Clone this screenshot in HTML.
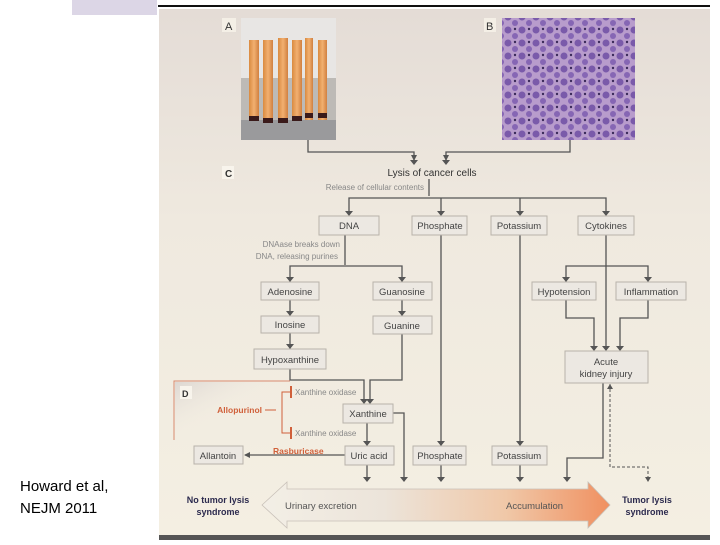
<!DOCTYPE html>
<html><head><meta charset="utf-8"><style>
body{margin:0;width:720px;height:540px;overflow:hidden;background:#fff;font-family:"Liberation Sans",sans-serif}
</style></head><body>
<svg width="720" height="540" viewBox="0 0 720 540" xmlns="http://www.w3.org/2000/svg" font-family="Liberation Sans, sans-serif">
<defs>
<linearGradient id="bg" x1="0" y1="0" x2="0" y2="1"><stop offset="0" stop-color="#e4dcd6"/><stop offset="0.4" stop-color="#efe9df"/><stop offset="1" stop-color="#f4efe2"/></linearGradient>
<linearGradient id="arr" x1="0" y1="0" x2="1" y2="0"><stop offset="0" stop-color="#f3efe6"/><stop offset="0.35" stop-color="#ece4da"/><stop offset="0.7" stop-color="#f0c8a8"/><stop offset="1" stop-color="#f09060"/></linearGradient>
<linearGradient id="dg" x1="0" y1="0" x2="1" y2="1"><stop offset="0" stop-color="#ddd7d2"/><stop offset="0.5" stop-color="#f1ece2" stop-opacity="0"/></linearGradient>
<linearGradient id="tube" x1="0" y1="0" x2="1" y2="0"><stop offset="0" stop-color="#d98a40"/><stop offset="0.5" stop-color="#f2b070"/><stop offset="1" stop-color="#d08040"/></linearGradient>
<pattern id="cells" width="14" height="13" patternUnits="userSpaceOnUse"><rect width="14" height="13" fill="#b89ccc"/><circle cx="4" cy="4" r="3.5" fill="#7a5aaa"/><circle cx="11" cy="10" r="3" fill="#8666b4"/><circle cx="11" cy="3" r="1.2" fill="#3a2a5a"/></pattern>
<marker id="ah" markerWidth="6" markerHeight="6" refX="5" refY="3" orient="auto" markerUnits="userSpaceOnUse"><path d="M0,0 L6,3 L0,6z" fill="#555"/></marker>
</defs>
<rect x="72" y="0" width="85" height="15" fill="#dcd6e6"/>
<rect x="158" y="5" width="552" height="2" fill="#111"/>
<rect x="159" y="9" width="551" height="527" fill="url(#bg)"/>
<rect x="159" y="535" width="551" height="5" fill="#555"/>
<!-- photo A -->
<rect x="222" y="18" width="14" height="14" fill="#f4efe6"/><text x="225" y="30" font-size="11" fill="#333">A</text>
<rect x="241" y="18" width="95" height="122" fill="#bdbab6"/>
<rect x="241" y="18" width="95" height="60" fill="#e8e6e4"/>
<g fill="url(#tube)"><rect x="249" y="50" width="10" height="118" transform="scale(1,0.8)"/></g>
<rect x="249" y="40" width="10" height="82" fill="url(#tube)"/><rect x="263" y="40" width="10" height="84" fill="url(#tube)"/><rect x="278" y="38" width="10" height="87" fill="url(#tube)"/><rect x="292" y="40" width="10" height="84" fill="url(#tube)"/><rect x="305" y="38" width="8" height="82" fill="url(#tube)"/><rect x="318" y="40" width="9" height="80" fill="url(#tube)"/>
<rect x="241" y="120" width="95" height="20" fill="#9a9a9c"/>
<g fill="#3a1a1a"><rect x="249" y="116" width="10" height="5"/><rect x="263" y="118" width="10" height="5"/><rect x="278" y="118" width="10" height="5"/><rect x="292" y="116" width="10" height="5"/><rect x="305" y="113" width="8" height="5"/><rect x="318" y="113" width="9" height="5"/></g>
<!-- photo B -->
<rect x="484" y="18" width="12" height="14" fill="#f4efe6"/><text x="486" y="30" font-size="11" fill="#333">B</text>
<rect x="502" y="18" width="133" height="122" fill="url(#cells)"/>
<g stroke="#555" stroke-width="1.3" fill="none">
<path d="M308,140 V152 H414 V160" marker-end="url(#ah)"/>
<path d="M570,140 V152 H446 V160" marker-end="url(#ah)"/>
<path d="M429,179 V196 M349,214 V198 H606 V214" />
<path d="M441,198 V214 M520,198 V214"/>
<path d="M345,235 V265 M290,282 V266 H402 V282"/>
<path d="M290,300 V316 M402,300 V316 M290,333 V349"/>
<path d="M290,369 V380 H364 V403 M402,334 V380 H370 V403"/>
<path d="M367,423 V446 M367,465 V481 M393,413 H404 V481"/>
<path d="M345,455 H245"/>
<path d="M441,235 V446 M441,465 V481 M520,235 V446 M520,465 V481"/>
<path d="M606,235 V350 M566,282 V266 H648 V282"/>
<path d="M566,300 V318 H594 V350 M648,300 V318 H620 V350"/>
<path d="M603,383 V458 H567 V481"/>
<path d="M610,384 V467 H648 V481" stroke-dasharray="3,2" stroke-width="1"/>
</g>
<g fill="#555">
<path d="M410,160h8l-4,5z M442,160h8l-4,5z M345,211h8l-4,5z M437,211h8l-4,5z M516,211h8l-4,5z M602,211h8l-4,5z"/>
<path d="M286,277h8l-4,5z M398,277h8l-4,5z M286,311h8l-4,5z M398,311h8l-4,5z M286,344h8l-4,5z"/>
<path d="M360,399h8l-4,5z M366,399h8l-4,5z M363,441h8l-4,5z M363,477h8l-4,5z M400,477h8l-4,5z"/>
<path d="M437,441h8l-4,5z M437,477h8l-4,5z M516,441h8l-4,5z M516,477h8l-4,5z"/>
<path d="M562,277h8l-4,5z M644,277h8l-4,5z M590,346h8l-4,5z M602,346h8l-4,5z M616,346h8l-4,5z M563,477h8l-4,5z M645,477h6l-3,5z M607,389h6l-3,-5z"/>
<path d="M244,455l6,-3v6z"/>
</g>
<!-- texts -->
<rect x="222" y="166" width="12" height="13" fill="#f8f4ec"/><text x="225" y="177" font-size="10" font-weight="bold" fill="#333">C</text>
<text x="432" y="176" font-size="10" text-anchor="middle" fill="#333">Lysis of cancer cells</text>
<text x="424" y="190" font-size="8" text-anchor="end" fill="#888">Release of cellular contents</text>
<text x="340" y="247" font-size="8" text-anchor="end" fill="#888">DNAase breaks down</text>
<text x="338" y="259" font-size="8" text-anchor="end" fill="#888">DNA, releasing purines</text>
<g fill="#ece8e2" stroke="#b8b2aa" stroke-width="1">
<rect x="319" y="216" width="60" height="19"/><rect x="412" y="216" width="55" height="19"/><rect x="491" y="216" width="56" height="19"/><rect x="578" y="216" width="56" height="19"/>
<rect x="261" y="282" width="58" height="18"/><rect x="373" y="282" width="59" height="18"/><rect x="532" y="282" width="64" height="18"/><rect x="616" y="282" width="70" height="18"/>
<rect x="261" y="316" width="58" height="17"/><rect x="373" y="316" width="59" height="18"/>
<rect x="254" y="349" width="72" height="20"/><rect x="565" y="351" width="83" height="32"/>
<rect x="343" y="404" width="50" height="19"/>
<rect x="194" y="446" width="49" height="18"/><rect x="345" y="446" width="49" height="19"/><rect x="413" y="446" width="53" height="19"/><rect x="492" y="446" width="55" height="19"/>
</g>
<g font-size="9.5" fill="#444" text-anchor="middle">
<text x="349" y="229">DNA</text><text x="440" y="229">Phosphate</text><text x="519" y="229">Potassium</text><text x="606" y="229">Cytokines</text>
<text x="290" y="295">Adenosine</text><text x="402" y="295">Guanosine</text><text x="564" y="295">Hypotension</text><text x="651" y="295">Inflammation</text>
<text x="290" y="328">Inosine</text><text x="402" y="329">Guanine</text><text x="290" y="363">Hypoxanthine</text>
<text x="606" y="365">Acute</text><text x="606" y="377">kidney injury</text>
<text x="368" y="417">Xanthine</text>
<text x="218" y="459">Allantoin</text><text x="369" y="459">Uric acid</text><text x="440" y="459">Phosphate</text><text x="519" y="459">Potassium</text>
</g>
<!-- D region -->
<path d="M174,440 V381 H290" stroke="#d88a70" stroke-width="1" fill="none"/>
<rect x="175" y="382" width="110" height="58" fill="url(#dg)"/>
<rect x="180" y="386" width="12" height="13" fill="#f8f4ec"/><text x="182" y="397" font-size="9" font-weight="bold" fill="#333">D</text>
<g stroke="#d0603a" stroke-width="1" fill="none"><path d="M265,410 H276 M290,392 H282 V433 H290"/><path d="M291,386 V398 M291,427 V439" stroke-width="2"/></g>
<text x="262" y="413" font-size="8.5" font-weight="bold" fill="#d0603a" text-anchor="end">Allopurinol</text>
<text x="295" y="395" font-size="8" fill="#888">Xanthine oxidase</text>
<text x="295" y="436" font-size="8" fill="#888">Xanthine oxidase</text>
<text x="273" y="454" font-size="8.5" font-weight="bold" fill="#d0603a">Rasburicase</text>
<!-- big arrow -->
<path d="M262,505 L287,482 V489 H588 V482 L610,505 L588,528 V521 H287 V528 Z" fill="url(#arr)" stroke="#c8c0b8" stroke-width="0.8"/>
<text x="285" y="509" font-size="9.5" fill="#555">Urinary excretion</text>
<text x="506" y="509" font-size="9.5" fill="#555">Accumulation</text>
<g font-size="9" font-weight="bold" fill="#2c2a4e" text-anchor="middle">
<text x="218" y="503">No tumor lysis</text><text x="218" y="515">syndrome</text>
<text x="647" y="503">Tumor lysis</text><text x="647" y="515">syndrome</text>
</g>
<text x="20" y="491" font-size="15" fill="#000">Howard et al,</text>
<text x="20" y="513" font-size="15" fill="#000">NEJM 2011</text>
</svg>
</body></html>
